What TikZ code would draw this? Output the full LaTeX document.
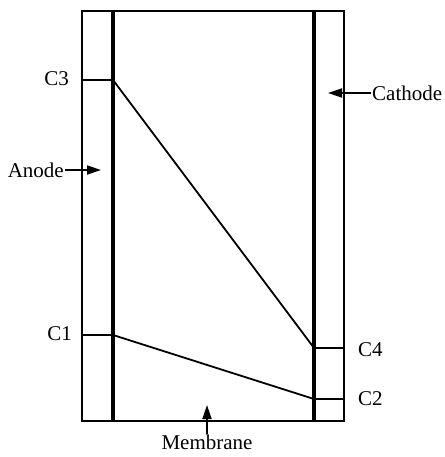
\documentclass[tikz,border=0pt]{standalone}
\usepackage{fontspec}
\setmainfont{Liberation Serif}
\usetikzlibrary{arrows.meta}
\begin{document}
\begin{tikzpicture}[x=1pt,y=-1pt,
  thin line/.style={line width=1.8pt},
  thick line/.style={line width=3.5pt},
  profile/.style={line width=1.8pt},
  lbl/.style={font=\fontsize{21}{24}\selectfont, inner sep=1pt},
  pointer/.style={line width=1.8pt, -{Triangle[length=14pt,width=9pt]}}]
\useasboundingbox (0,0) rectangle (444,457);
% coordinates
\coordinate (OTL) at (82,11);
\coordinate (OBR) at (344,421);
\coordinate (LT) at (113,11);
\coordinate (LB) at (113,421);
\coordinate (RT) at (314,11);
\coordinate (RB) at (314,421);
\coordinate (c3) at (113,80);
\coordinate (c1) at (113,335);
\coordinate (c4) at (314,348);
\coordinate (c2) at (314,399);
% outer box
\draw[thin line] (OTL) rectangle (OBR);
\draw[thick line] (LT) -- (LB);
\draw[thick line] (RT) -- (RB);
% ticks
\draw[thin line] (82,80) -- (c3);
\draw[thin line] (82,335) -- (c1);
\draw[thin line] (c4) -- (344,348);
\draw[thin line] (c2) -- (344,399);
% profiles
\draw[profile] (c3) -- (c4);
\draw[profile] (c1) -- (c2);
% labels
\node[lbl, anchor=east] (C3) at (70,79) {C3};
\node[lbl, anchor=east] (C1) at (73,334) {C1};
\node[lbl, anchor=west] (C4) at (357,350) {C4};
\node[lbl, anchor=west] (C2) at (357,399) {C2};
\node[lbl, anchor=east] (anode) at (65,170) {Anode};
\node[lbl, anchor=west] (cathode) at (371,93) {Cathode};
\node[lbl, anchor=north] (membrane) at (207,434) {Membrane};
\coordinate (anodetip) at (101,170);
\coordinate (cathodetip) at (328,93);
\coordinate (membranetip) at (207,405);
\draw[pointer] (anode.east) -- (anodetip);
\draw[pointer] (cathode.west) -- (cathodetip);
\draw[pointer] (membrane.north) -- (membranetip);
\end{tikzpicture}
\end{document}
